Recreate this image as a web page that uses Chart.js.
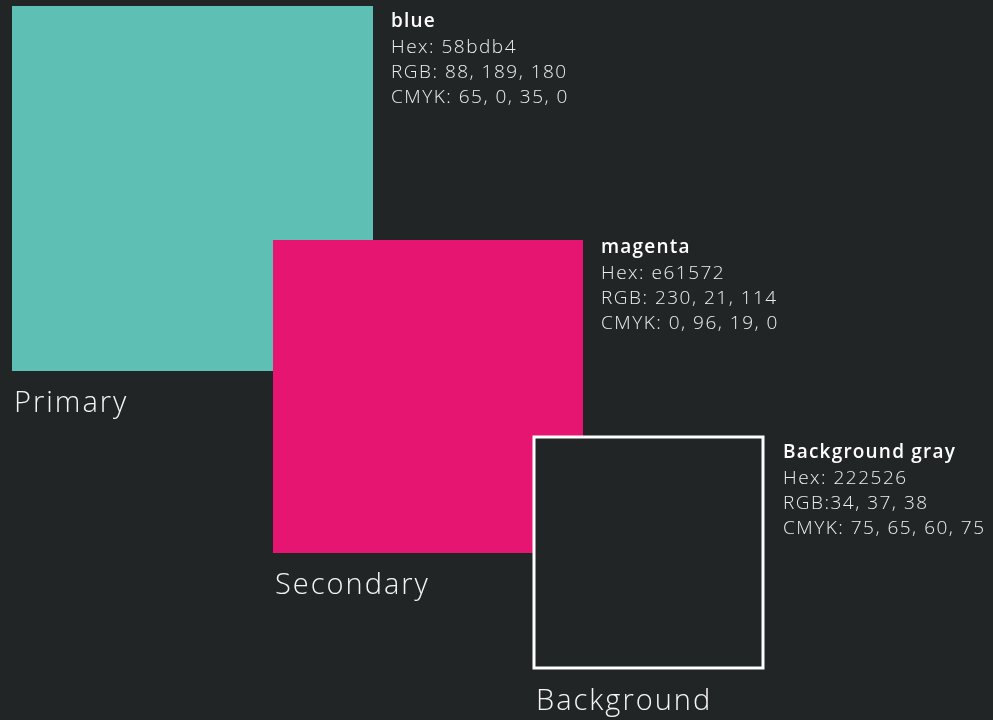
<!DOCTYPE html>
<html>
<head>
<meta charset="utf-8">
<script src="https://cdn.jsdelivr.net/npm/chart.js@4.4.0/dist/chart.umd.min.js"></script>
<style>
  html, body { margin: 0; padding: 0; background: #222526; }
  canvas { display: block; }
</style>
</head>
<body>
<canvas id="palette" width="993" height="720"></canvas>
<script>
// swatch data
const swatchNames = ["Primary", "Secondary", "Background"];
const colorNames = ["blue", "magenta", "Background gray"];
const hexValues = ["Hex: 58bdb4", "Hex: e61572", "Hex: 222526"];
const rgbValues = ["RGB: 88, 189, 180", "RGB: 230, 21, 114", "RGB:34, 37, 38"];
const cmykValues = ["CMYK: 65, 0, 35, 0", "CMYK: 0, 96, 19, 0", "CMYK: 75, 65, 60, 75"];
const swatchFills = ["#5ebfb4", "#e61572", "#222526"];

// swatch extents in the chart's value space (x: 0-993, y: 0-720 top down)
const swatchX = [[12, 373], [273, 583], [534, 763]];
const swatchY = [[6, 371], [240, 553], [437, 668]];

const swatchPlugin = {
  id: "swatches",
  afterDatasetsDraw(chart) {
    const ctx = chart.ctx;
    const x = chart.scales.x;
    const y = chart.scales.y;
    ctx.save();
    swatchNames.forEach((name, i) => {
      const left = x.getPixelForValue(swatchX[i][0]);
      const right = x.getPixelForValue(swatchX[i][1]);
      const top = y.getPixelForValue(swatchY[i][0]);
      const bottom = y.getPixelForValue(swatchY[i][1]);
      ctx.fillStyle = swatchFills[i];
      ctx.fillRect(left, top, right - left, bottom - top);
      if (i === 2) {
        ctx.strokeStyle = "#ffffff";
        ctx.lineWidth = 3;
        ctx.strokeRect(left, top, right - left, bottom - top);
      }

      // info block to the right
      const tx = right + (i === 2 ? 20 : 18);
      const ty = top + (i === 1 ? 13 : 21);
      ctx.textBaseline = "alphabetic";
      ctx.fillStyle = "#ffffff";
      ctx.letterSpacing = "1.2px";
      ctx.font = "600 19px 'Open Sans'";
      ctx.fillText(colorNames[i], tx, ty);
      ctx.fillStyle = "#eceeee";
      ctx.letterSpacing = "1.5px";
      ctx.font = "300 19px 'Open Sans'";
      ctx.fillText(hexValues[i], tx, ty + 26);
      ctx.fillText(rgbValues[i], tx, ty + 51);
      ctx.fillText(cmykValues[i], tx, ty + 76);

      // swatch name below
      ctx.letterSpacing = "2px";
      ctx.font = "300 29px 'Open Sans'";
      ctx.fillStyle = "#f4f4f4";
      ctx.fillText(name, left + 2, bottom + (i === 2 ? 42 : 41));
    });
    ctx.restore();
  }
};

new Chart(document.getElementById("palette"), {
  type: "scatter",
  data: { datasets: [{ data: [], pointRadius: 0 }] },
  options: {
    responsive: false,
    animation: false,
    layout: { padding: 0 },
    plugins: { legend: { display: false }, tooltip: { enabled: false } },
    scales: {
      x: { type: "linear", min: 0, max: 993, display: false },
      y: { type: "linear", min: 0, max: 720, reverse: true, display: false }
    }
  },
  plugins: [swatchPlugin]
});
</script>
</body>
</html>
